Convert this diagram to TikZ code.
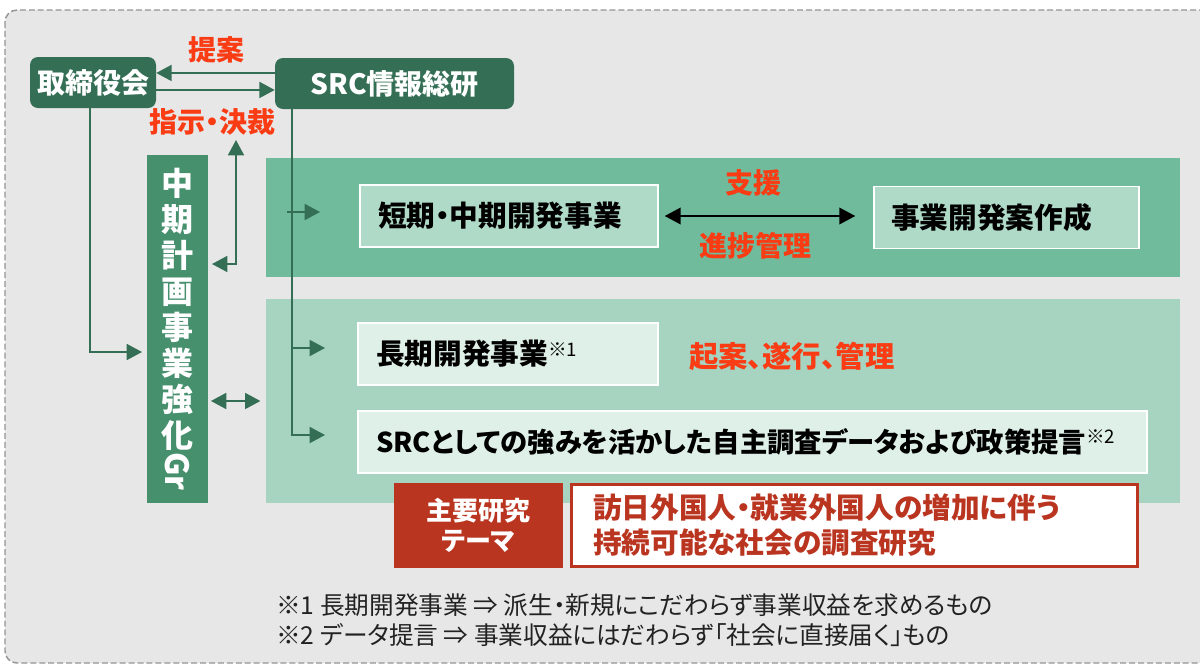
\documentclass[tikz,border=0pt]{standalone}
\usepackage{fontspec}
\setmainfont{Noto Sans CJK JP}[RawFeature=+palt]
\usetikzlibrary{arrows.meta,calc}
\definecolor{bggray}{HTML}{E7E7E7}
\definecolor{framegray}{HTML}{959595}
\definecolor{dkgreen}{HTML}{336E55}
\definecolor{grgreen}{HTML}{46906E}
\definecolor{toppanel}{HTML}{6FBB9C}
\definecolor{botpanel}{HTML}{A6D4C1}
\definecolor{tankifill}{HTML}{AFDAC8}
\definecolor{chokifill}{HTML}{DFF0E9}
\definecolor{lblred}{HTML}{FA3C14}
\definecolor{themered}{HTML}{BA3520}
\definecolor{notegray}{HTML}{222222}
\begin{document}
\begin{tikzpicture}[x=0.75pt,y=-0.75pt,
  darkbox/.style={fill=dkgreen, rounded corners=6pt, text=white, inner sep=0pt,
    font=\bfseries\fontsize{21}{24}\selectfont},
  panelbox/.style={inner sep=0pt},
  litebox/.style={draw=white, line width=1.1pt, inner ysep=0pt, align=left,
    minimum height=46.5pt, text=black, font=\bfseries\fontsize{21.5}{24}\selectfont},
  redlbl/.style={text=lblred, inner sep=0pt, font=\bfseries\fontsize{21}{24}\selectfont},
  garrow/.style={draw=dkgreen, line width=1.3pt, -{Triangle[length=11.5pt,width=12pt]}},
  garrowboth/.style={draw=dkgreen, line width=1.3pt, {Triangle[length=11.5pt,width=12pt]}-{Triangle[length=11.5pt,width=12pt]}},
  barrowboth/.style={draw=black, line width=1.3pt, {Triangle[length=12pt,width=12.5pt]}-{Triangle[length=12pt,width=12.5pt]}},
  notetext/.style={anchor=west, inner sep=0pt, text=notegray, font=\fontsize{18.5}{22}\selectfont}
]
\useasboundingbox (0,0) rectangle (1200,665);
\fill[white] (0,0) rectangle (1200,665);
\draw[fill=bggray, draw=framegray, line width=1.1pt, dash pattern=on 4.5pt off 2.2pt, rounded corners=9pt] (5,10) rectangle (1230,663);

% panels
\node[panelbox, fill=toppanel, minimum width=685.5pt, minimum height=89.25pt] (toppan) at (723,217.5) {};
\node[panelbox, fill=botpanel, minimum width=685.5pt, minimum height=153pt] (botpan) at (723,401) {};

% top nodes
\node[darkbox, minimum width=94.5pt, minimum height=38.25pt] (tori) at (93,82.5) {取締役会};
\node[darkbox, minimum width=179.25pt, minimum height=38.25pt] (src) at (394.5,83.5) {SRC情報総研};

\node[redlbl] (teian) at (216,50) {提案};
\node[redlbl] (shiji) at (212,122) {指示・決裁};

% Gr box
\node[fill=grgreen, text=white, minimum width=45.75pt, minimum height=261pt, inner sep=0pt,
  align=center, font=\bfseries\fontsize{24}{27}\selectfont] (gr) at (177.5,329)
  {中\\期\\計\\画\\事\\業\\強\\化\\\rotatebox[origin=c]{-90}{Gr}};

% inner boxes
\node[litebox, fill=tankifill, text width=196.5pt, inner xsep=13.5pt] (tanki) at (509,216) {短期・中期開発事業};
\node[litebox, fill=tankifill, text width=173.25pt, inner xsep=12.75pt] (jigyo) at (1006.5,217.5) {事業開発案作成};
\node[redlbl] (shien) at (753,183) {支援};
\node[redlbl] (shinchoku) at (755,246) {進捗管理};

\node[litebox, fill=chokifill, text width=198pt, inner xsep=13.5pt] (choki) at (508,354)
  {長期開発事業\raisebox{6.5pt}{\mdseries\fontsize{14}{14}\selectfont ※1}};
\node[redlbl, anchor=west, font=\bfseries\fontsize{22}{24}\selectfont] (kian) at (689,356) {起案、遂行、管理};
\node[litebox, fill=chokifill, text width=564.75pt, inner xsep=13.5pt, font=\bfseries\fontsize{20.5}{24}\selectfont] (srcbox) at (752.5,442)
  {SRCとしての強みを活かした自主調査データおよび政策提言\raisebox{6.5pt}{\mdseries\fontsize{14}{14}\selectfont ※2}};

% theme
\node[fill=themered, text=white, minimum width=126.75pt, minimum height=63.75pt, inner sep=0pt,
  align=center, font=\bfseries\fontsize{19.5}{22.5}\selectfont] (themelbl) at (478.5,525.5) {主要研究\\テーマ};
\node[draw=themered, line width=2.2pt, fill=white, text=themered, text width=392pt, inner xsep=16.5pt,
  minimum height=61.5pt, inner ysep=0pt, align=left, font=\bfseries\fontsize{21.5}{26.25}\selectfont] (themebox) at (854.5,525.5)
  {訪日外国人・就業外国人の増加に伴う\\持続可能な社会の調査研究};

% notes
\node[notetext] (note1) at (276,605) {※1 長期開発事業 ⇒ 派生・新規にこだわらず事業収益を求めるもの};
\node[notetext] (note2) at (276,635) {※2 データ提言 ⇒ 事業収益にはだわらず「社会に直接届く」もの};

% connectors
\draw[garrow] ([yshift=7.9pt]src.west) -- ([yshift=7.9pt]src.west -| tori.east);
\draw[garrow] ([yshift=-5.6pt]tori.east) -- ([yshift=-5.6pt]tori.east -| src.west);

\coordinate (ka) at (236,140);
\coordinate (kb) at (212,264);
\draw[garrowboth] (ka) |- (kb);

\coordinate (g1) at (142,352);
\draw[garrow] ([xshift=-2.25pt]tori.south) |- (g1);

\draw[garrowboth, shorten <=2pt, shorten >=4pt] (gr.east |- botpan.west) -- (botpan.west);

\coordinate (s0) at ([xshift=-76.9pt]src.south);
\coordinate (a1s) at (287,212);
\coordinate (a1) at (320,212);
\coordinate (a2) at (325,348);
\coordinate (a3) at (325,435);
\draw[garrow] (s0) |- (a3);
\draw[garrow] (a1s) -- (a1);
\draw[garrow] (s0 |- a2) -- (a2);

\draw[barrowboth, shorten <=4.5pt, shorten >=13.5pt] (tanki.east) -- (tanki.east -| jigyo.west);
\end{tikzpicture}
\end{document}
